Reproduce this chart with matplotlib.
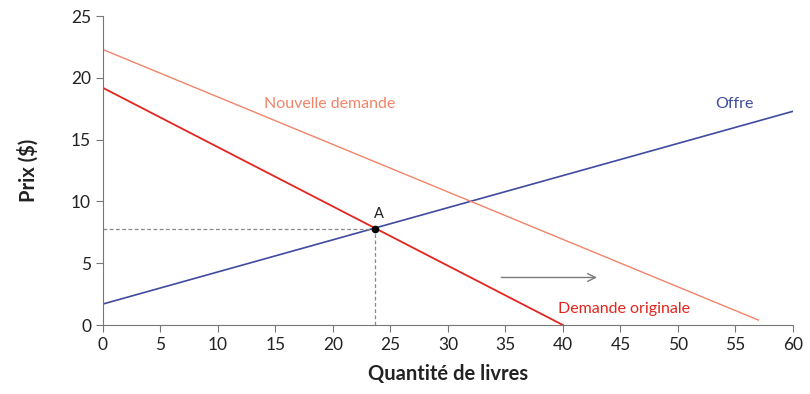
import matplotlib.pyplot as plt

plt.rcParams['font.family'] = ['Lato', 'DejaVu Sans']

### Data ###
offre_x = [0, 60]
offre_y = [1.7, 17.3]
demande_x = [0, 40]
demande_y = [19.2, 0]
nouvelle_x = [0, 57]
nouvelle_y = [22.3, 0.4]
point_a = (23.7, 7.8)
arrow_x = [34.4, 43.2]
arrow_y = 3.85

x_ticks = list(range(0, 61, 5))
y_ticks = list(range(0, 26, 5))

BLUE = '#3f4aa0'
RED = '#e2261f'
SALMON = '#f08468'
GREY = '#7a7a7a'

### Plot ###
fig = plt.figure(figsize=(8.1, 3.94), dpi=100)
ax = fig.add_axes([0.127, 0.175, 0.852, 0.784])

ax.plot(offre_x, offre_y, color=BLUE, linewidth=1.2)
ax.plot(demande_x, demande_y, color=RED, linewidth=1.3)
ax.plot(nouvelle_x, nouvelle_y, color=SALMON, linewidth=1.0)

# dashed guides to point A
ax.plot([0, point_a[0]], [point_a[1], point_a[1]], color='#888888', linestyle=(0, (3, 2)), linewidth=0.9)
ax.plot([point_a[0], point_a[0]], [0, point_a[1]], color='#888888', linestyle=(0, (3, 2)), linewidth=0.9)
ax.plot(*point_a, 'o', color='black', markersize=4.5, zorder=5)
ax.text(point_a[0] + 0.3, point_a[1] + 0.6, 'A', fontsize=10.5, color='#222222', ha='center', va='bottom')

ax.annotate('', xy=(arrow_x[1], arrow_y), xytext=(arrow_x[0], arrow_y),
            arrowprops=dict(arrowstyle='->', color=GREY, linewidth=1.0, mutation_scale=14))

ax.text(19.7, 17.9, 'Nouvelle demande', color=SALMON, fontsize=11.5, ha='center', va='center')
ax.text(54.9, 17.9, 'Offre', color=BLUE, fontsize=11.5, ha='center', va='center')
ax.text(45.3, 1.3, 'Demande originale', color=RED, fontsize=11.5, ha='center', va='center')

ax.set_xlim(0, 60)
ax.set_ylim(0, 25)
ax.set_xticks(x_ticks)
ax.set_yticks(y_ticks)
ax.tick_params(colors='#777777', labelcolor='#222222', labelsize=12.5, length=5, direction='out')
for side in ['top', 'right']:
    ax.spines[side].set_visible(False)
for side in ['left', 'bottom']:
    ax.spines[side].set_color('#777777')

ax.set_xlabel('Quantité de livres', fontsize=14.5, fontweight='bold', color='#222222', labelpad=8)
ax.set_ylabel('Prix ($)', fontsize=14.5, fontweight='bold', color='#222222', labelpad=23)

plt.savefig('out.png', dpi=100)
